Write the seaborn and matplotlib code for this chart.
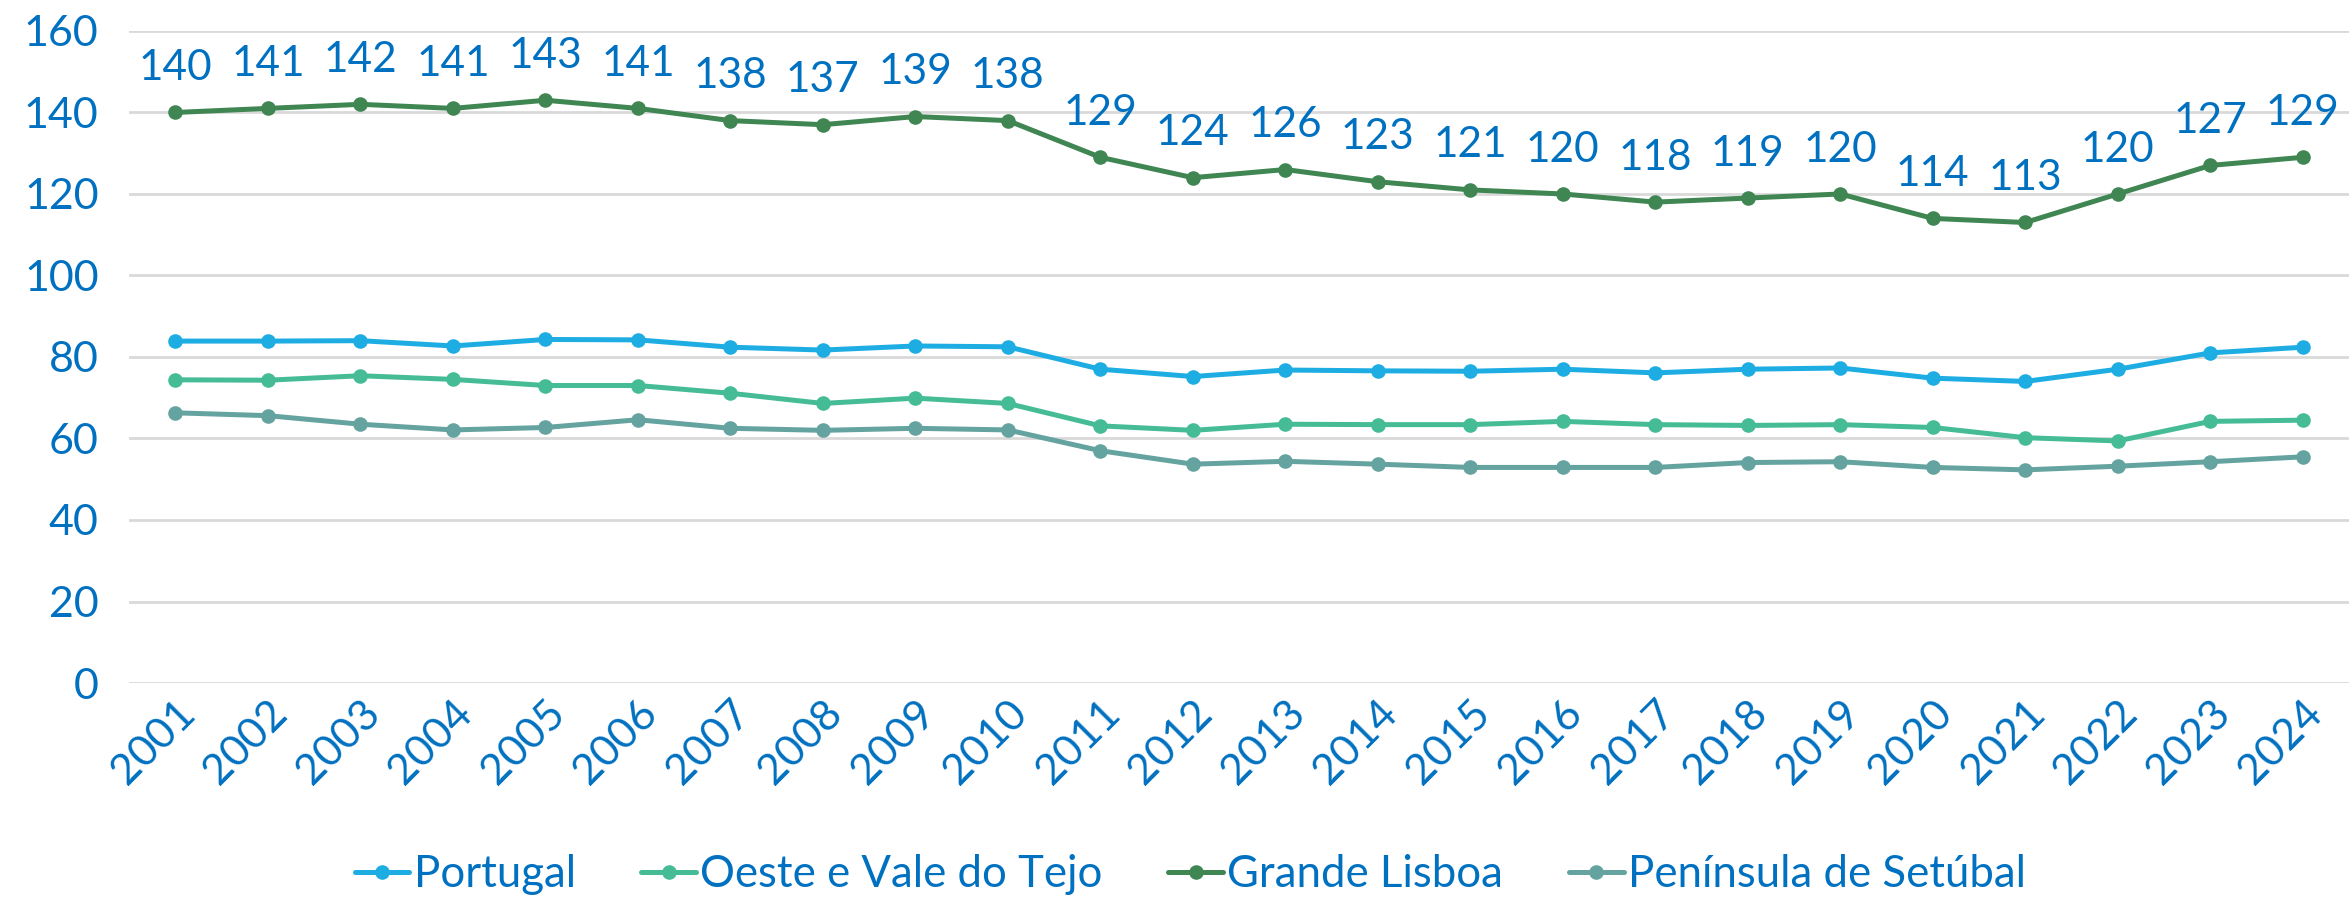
import numpy as np
import pandas as pd
import matplotlib
matplotlib.use("Agg")
import matplotlib.pyplot as plt
import seaborn as sns

# dados
anos = [str(a) for a in range(2001, 2025)]

portugal = [83.9, 83.9, 84.0, 82.7, 84.3, 84.2, 82.4, 81.7, 82.7, 82.5, 77.0, 75.2,
            76.8, 76.6, 76.5, 77.0, 76.1, 77.0, 77.3, 74.8, 74.0, 77.0, 81.0, 82.4]
oeste = [74.4, 74.3, 75.4, 74.5, 73.0, 73.0, 71.1, 68.6, 69.9, 68.6, 63.1, 62.0,
         63.5, 63.4, 63.4, 64.2, 63.4, 63.2, 63.4, 62.7, 60.2, 59.4, 64.2, 64.5]
lisboa = [140, 141, 142, 141, 143, 141, 138, 137, 139, 138, 129, 124,
          126, 123, 121, 120, 118, 119, 120, 114, 113, 120, 127, 129]
setubal = [66.3, 65.6, 63.5, 62.1, 62.7, 64.6, 62.5, 62.0, 62.5, 62.1, 57.0, 53.7,
           54.4, 53.7, 52.9, 52.9, 52.9, 54.1, 54.3, 52.9, 52.3, 53.2, 54.3, 55.5]

series = ["Portugal", "Oeste e Vale do Tejo", "Grande Lisboa", "Península de Setúbal"]
cores = ["#1EADE3", "#45BC95", "#3F8653", "#64A39F"]
azul_texto = "#0070C0"

df = pd.DataFrame({
    "ano": anos * 4,
    "valor": portugal + oeste + lisboa + setubal,
    "serie": np.repeat(series, len(anos)),
})

sns.set_theme(style="white")
plt.rcParams["font.family"] = ["Lato", "DejaVu Sans"]

fig = plt.figure(figsize=(23.49, 9), dpi=100)
ax = fig.add_axes([0.055, 0.2411, 0.945, 0.7245])

sns.lineplot(data=df, x="ano", y="valor", hue="serie", hue_order=series,
             palette=cores, marker="o", markersize=10.5, markeredgewidth=0,
             linewidth=3.6, ax=ax, sort=False)

# rótulos da Grande Lisboa
for i, v in enumerate(lisboa):
    ax.annotate(f"{v:.0f}", (i, v), xytext=(0, 32), textcoords="offset points",
                ha="center", va="center", fontsize=30.5, color=azul_texto)

ax.set_ylim(0, 160)
ax.set_yticks(range(0, 161, 20))
ax.set_xlim(-0.5, len(anos) - 0.5)
ax.yaxis.grid(True, color="#D9D9D9", linewidth=2)
ax.xaxis.grid(False)
for s in ax.spines.values():
    s.set_visible(False)
ax.set_xlabel("")
ax.set_ylabel("")
ax.tick_params(axis="y", labelsize=31, labelcolor=azul_texto, length=0, pad=22)
ax.tick_params(axis="x", labelsize=31, labelcolor=azul_texto, length=0, pad=8)
plt.setp(ax.get_xticklabels(), rotation=45, ha="right", rotation_mode="anchor")

ax.legend(loc="center", bbox_to_anchor=(0.478, -0.294), ncol=4, frameon=False,
          fontsize=31.5, labelcolor=azul_texto, handlelength=1.25, handletextpad=0.1,
          columnspacing=1.5)

fig.savefig("out.png", dpi=100)
